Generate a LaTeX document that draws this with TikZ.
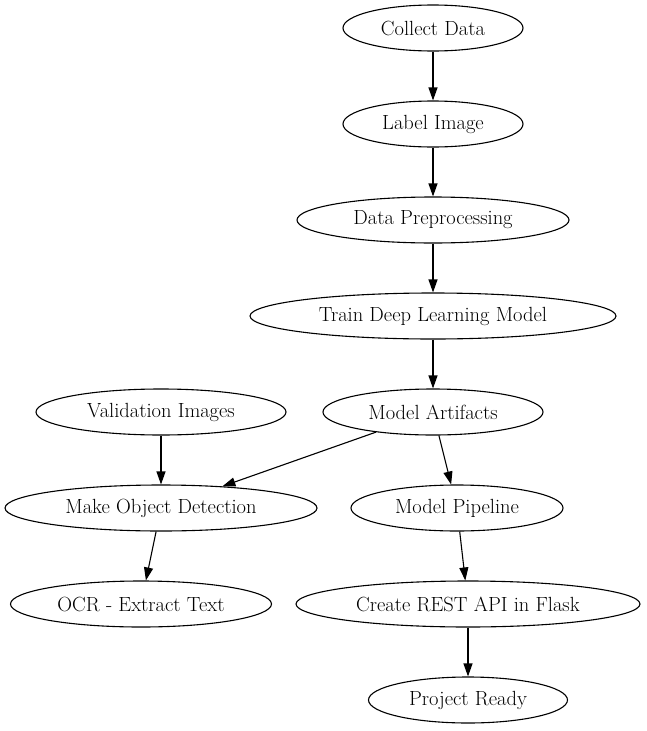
\documentclass[tikz,border=0pt]{standalone}
\usepackage{fontspec}
\usetikzlibrary{arrows.meta,shapes.geometric}
\begin{document}
\begin{tikzpicture}[x=1pt,y=-1pt]
\tikzstyle{stage}=[draw,line width=1.1pt,ellipse,minimum height=46pt,inner sep=0pt,font=\fontsize{20.5}{24}\selectfont]
\tikzstyle{edge} = [draw,line width=1.1pt,-{Triangle[length=13pt,width=9pt]}]
\useasboundingbox (0,0) rectangle (646,731);
\node[stage,minimum width=180pt] (collect) at (433,28) {Collect Data};
\node[stage,minimum width=180pt] (label) at (433,124) {Label Image};
\node[stage,minimum width=272pt] (prep) at (433,220) {Data Preprocessing};
\node[stage,minimum width=366pt] (train) at (433,316) {Train Deep Learning Model};
\node[stage,minimum width=220pt] (artifacts) at (433,412) {Model Artifacts};
\node[stage,minimum width=250pt] (valid) at (161,412) {Validation Images};
\node[stage,minimum width=312pt] (detect) at (161,508) {Make Object Detection};
\node[stage,minimum width=212pt] (pipeline) at (457,508) {Model Pipeline};
\node[stage,minimum width=261pt] (ocr) at (141,604) {OCR - Extract Text};
\node[stage,minimum width=344pt] (rest) at (468,604) {Create REST API in Flask};
\node[stage,minimum width=199pt] (ready) at (468,700) {Project Ready};
\path[edge] (collect) -- (label);
\path[edge] (label) -- (prep);
\path[edge] (prep) -- (train);
\path[edge] (train) -- (artifacts);
\path[edge] (valid) -- (detect);
\path[edge] (artifacts) -- (detect);
\path[edge] (artifacts) -- (pipeline);
\path[edge] (detect) -- (ocr);
\path[edge] (pipeline) -- (rest);
\path[edge] (rest) -- (ready);
\end{tikzpicture}
\end{document}
